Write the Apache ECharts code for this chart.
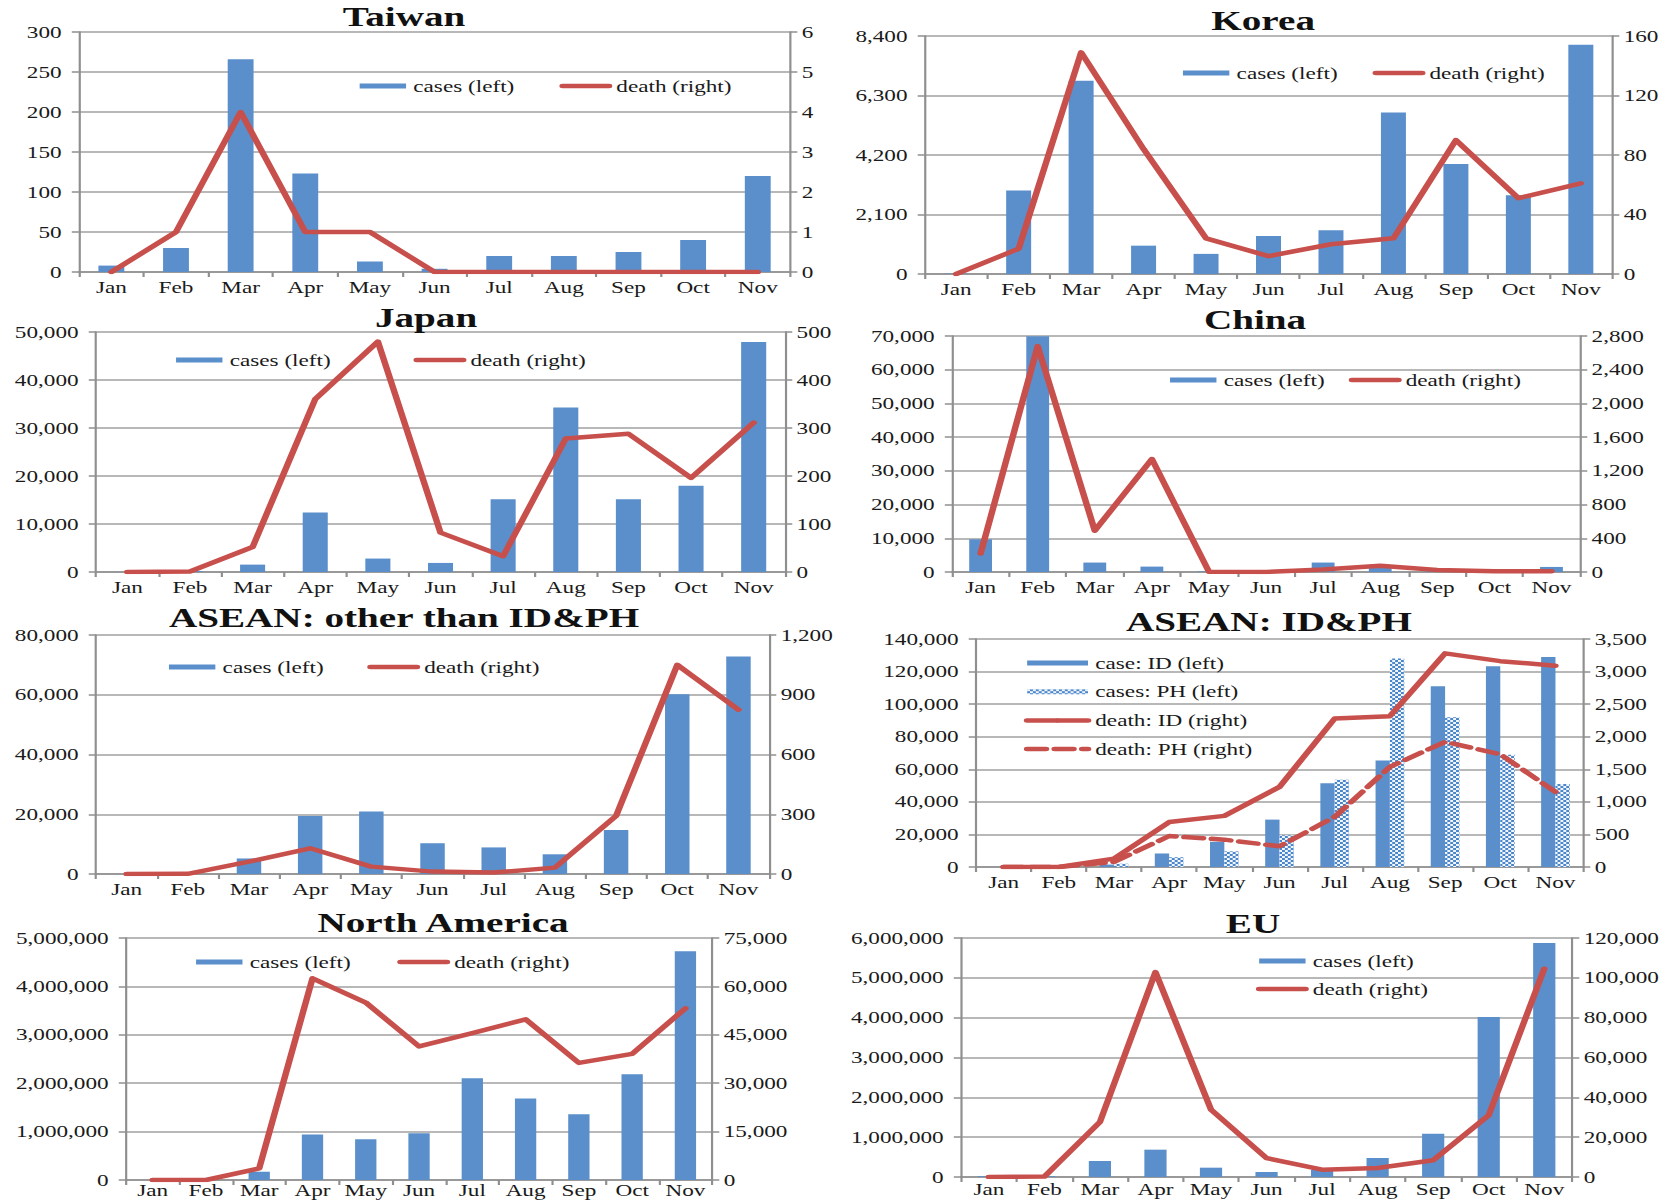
<!DOCTYPE html>
<html>
<head>
<meta charset="utf-8">
<script src="https://cdn.jsdelivr.net/npm/echarts@6/dist/echarts.min.js"></script>
<style>
  html, body { margin: 0; padding: 0; background: #fff; overflow: hidden; width: 1675px; height: 1203px; }
  /* the figure is laid out on a narrower canvas and widened to the page */
  #chart { width: 1155px; height: 1203px; transform: scaleX(1.45022); transform-origin: 0 0; }
</style>
</head>
<body>
<div id="chart"></div>
<script>
// ---- data -------------------------------------------------------------
const months = ['Jan', 'Feb', 'Mar', 'Apr', 'May', 'Jun', 'Jul', 'Aug', 'Sep', 'Oct', 'Nov'];

const taiwanCases  = [8, 30, 266, 123, 13, 4, 20, 20, 25, 40, 120];
const taiwanDeaths = [0, 1, 4, 1, 1, 0, 0, 0, 0, 0, 0];
const taiwanLeftScale  = [0, 300, 50];
const taiwanRightScale = [0, 6, 1];

const koreaCases  = [11, 2950, 6820, 1000, 710, 1340, 1540, 5700, 3880, 2780, 8090];
const koreaDeaths = [0, 17, 149, 84, 24, 12, 20, 24, 90, 51, 61];
const koreaLeftScale  = [0, 8400, 2100];
const koreaRightScale = [0, 160, 40];

const japanCases  = [10, 200, 1540, 12380, 2800, 1890, 15170, 34270, 15170, 17970, 47900];
const japanDeaths = [0, 1, 52, 360, 480, 82, 33, 278, 288, 196, 311];
const japanLeftScale  = [0, 50000, 10000];
const japanRightScale = [0, 500, 100];

const chinaCases  = [9700, 69900, 2800, 1600, 150, 300, 2800, 2000, 400, 300, 1500];
const chinaDeaths = [220, 2680, 490, 1340, 3, 0, 30, 75, 25, 10, 8];
const chinaLeftScale  = [0, 70000, 10000];
const chinaRightScale = [0, 2800, 400];

const aseanOtherCases  = [0, 100, 5200, 19400, 20900, 10300, 8900, 6600, 14700, 60200, 72800];
const aseanOtherDeaths = [0, 1, 62, 129, 37, 12, 7, 32, 292, 1050, 825];
const aseanOtherLeftScale  = [0, 80000, 20000];
const aseanOtherRightScale = [0, 1200, 300];

const idCases  = [0, 0, 1500, 8300, 15500, 29100, 51400, 65400, 111000, 123300, 129000];
const phCases  = [3, 50, 2000, 6000, 9600, 19500, 53500, 128000, 92000, 69000, 51000];
const idDeaths = [0, 0, 128, 690, 785, 1230, 2280, 2315, 3280, 3160, 3090];
const phDeaths = [0, 1, 78, 476, 420, 318, 770, 1537, 1921, 1731, 1152];
const idphLeftScale  = [0, 140000, 20000];
const idphRightScale = [0, 3500, 500];

const naCases  = [7, 60, 171000, 938000, 842000, 966000, 2100000, 1685000, 1356000, 2185000, 4726000];
const naDeaths = [0, 0, 3600, 62500, 55000, 41400, 45500, 49800, 36300, 39100, 53200];
const naLeftScale  = [0, 5000000, 1000000];
const naRightScale = [0, 75000, 15000];

const euCases  = [20000, 20000, 402000, 686000, 234000, 126000, 180000, 477000, 1088000, 4017000, 5874000];
const euDeaths = [0, 200, 27600, 102900, 33800, 9500, 3700, 4500, 8400, 31000, 104600];
const euLeftScale  = [0, 6000000, 1000000];
const euRightScale = [0, 120000, 20000];

// ---- styling ----------------------------------------------------------
const FONT = '"Liberation Serif", "Times New Roman", serif';
const BLUE = '#5a8fcb';
const RED = '#c8504c';
const TEXT = '#1a1a1a';
const AXIS = '#8f8f8f';
const GRIDC = '#a0a0a0';

const CASES = 'cases (left)';
const DEATH = 'death (right)';

const phDecal = {
  symbol: 'rect', symbolSize: 1, color: '#4a86cb',
  dashArrayX: [[2, 2], [0, 2, 2, 0]], dashArrayY: [2, 0]
};

// panel layout: grid box [left, top, width, height], title centre, legend placement
const panels = [
  { title: 'Taiwan', grid: [54.5, 32, 490.3, 240], head: [278.6, 17],
    legend: { left: 248, cy: 86, gap: 31, w: 32, orient: 'horizontal' },
    scales: [taiwanLeftScale, taiwanRightScale],
    bars: [{ name: CASES, data: taiwanCases }], lines: [{ name: DEATH, data: taiwanDeaths }] },
  { title: 'Korea', grid: [637.8, 36, 473.8, 238], head: [871, 21],
    legend: { left: 815.7, cy: 73, gap: 24, w: 32, orient: 'horizontal' },
    scales: [koreaLeftScale, koreaRightScale],
    bars: [{ name: CASES, data: koreaCases }], lines: [{ name: DEATH, data: koreaDeaths }] },
  { title: 'Japan', grid: [66.2, 332, 475.1, 240], head: [293.8, 318],
    legend: { left: 121.4, cy: 360, gap: 57, w: 32, orient: 'horizontal' },
    scales: [japanLeftScale, japanRightScale],
    bars: [{ name: CASES, data: japanCases }], lines: [{ name: DEATH, data: japanDeaths }] },
  { title: 'China', grid: [656.5, 336, 433, 236], head: [865.4, 320],
    legend: { left: 806.8, cy: 380, gap: 16.5, w: 32, orient: 'horizontal' },
    scales: [chinaLeftScale, chinaRightScale],
    bars: [{ name: CASES, data: chinaCases }], lines: [{ name: DEATH, data: chinaDeaths }] },
  { title: 'ASEAN: other than ID&PH', grid: [66.2, 635, 464.1, 239], head: [278.6, 618],
    legend: { left: 116.5, cy: 667, gap: 30, w: 32, orient: 'horizontal' },
    scales: [aseanOtherLeftScale, aseanOtherRightScale],
    bars: [{ name: CASES, data: aseanOtherCases }], lines: [{ name: DEATH, data: aseanOtherDeaths }] },
  { title: 'ASEAN: ID&PH', grid: [673, 639, 418.6, 228], head: [875, 622],
    legend: { left: 706, cy: 663, gap: 12.7, w: 42, orient: 'vertical' },
    scales: [idphLeftScale, idphRightScale], barWidth: '26%',
    bars: [{ name: 'case: ID (left)', data: idCases },
           { name: 'cases: PH (left)', data: phCases, decal: true }],
    lines: [{ name: 'death: ID (right)', data: idDeaths },
            { name: 'death: PH (right)', data: phDeaths, dashed: true }] },
  { title: 'North America', grid: [86.9, 938, 404.1, 242], head: [305.5, 923], labelMargin: 2,
    legend: { left: 135.2, cy: 962, gap: 32, w: 32, orient: 'horizontal' },
    scales: [naLeftScale, naRightScale],
    bars: [{ name: CASES, data: naCases }], lines: [{ name: DEATH, data: naDeaths }] },
  { title: 'EU', grid: [662.7, 938, 421.3, 239], head: [864, 924], labelMargin: 4,
    legend: { left: 866, cy: 961, gap: 12, w: 32, orient: 'vertical' },
    scales: [euLeftScale, euRightScale],
    bars: [{ name: CASES, data: euCases }], lines: [{ name: DEATH, data: euDeaths }] }
];

// ---- option -----------------------------------------------------------
const fmt = v => v.toLocaleString('en-US');
const labelStyle = { fontFamily: FONT, fontSize: 16, color: TEXT };

const option = {
  animation: false,
  backgroundColor: '#ffffff',
  title: [], legend: [], grid: [], xAxis: [], yAxis: [], series: []
};

panels.forEach((p, i) => {
  option.title.push({
    text: p.title, left: p.head[0], top: p.head[1], padding: 0,
    textAlign: 'center', textVerticalAlign: 'middle',
    textStyle: { fontFamily: FONT, fontWeight: 'bold', fontSize: 27, color: '#111' }
  });

  option.grid.push({
    left: p.grid[0], top: p.grid[1], width: p.grid[2], height: p.grid[3],
    outerBoundsMode: 'none', containLabel: false
  });

  option.xAxis.push({
    type: 'category', gridIndex: i, data: months, boundaryGap: true,
    axisLine: { show: true, lineStyle: { color: AXIS, width: 1.5 } },
    axisTick: { show: true, length: 5, interval: 0, alignWithLabel: false, lineStyle: { color: AXIS, width: 1.5 } },
    axisLabel: Object.assign({ interval: 0, margin: p.labelMargin != null ? p.labelMargin : 7 }, labelStyle),
    splitLine: { show: false }
  });

  const [lMin, lMax, lStep] = p.scales[0];
  const [rMin, rMax, rStep] = p.scales[1];
  option.yAxis.push({
    type: 'value', gridIndex: i, position: 'left', min: lMin, max: lMax, interval: lStep,
    axisLine: { show: true, lineStyle: { color: AXIS, width: 1.5 } },
    axisTick: { show: true, length: 5, lineStyle: { color: AXIS, width: 1.5 } },
    splitLine: { show: true, lineStyle: { color: GRIDC, width: 1.5 } },
    axisLabel: Object.assign({ margin: 12, formatter: fmt }, labelStyle)
  });
  option.yAxis.push({
    type: 'value', gridIndex: i, position: 'right', min: rMin, max: rMax, interval: rStep,
    axisLine: { show: true, lineStyle: { color: AXIS, width: 1.5 } },
    axisTick: { show: true, length: 5, lineStyle: { color: AXIS, width: 1.5 } },
    splitLine: { show: false },
    axisLabel: Object.assign({ margin: 8, formatter: fmt }, labelStyle)
  });

  const legendData = [];
  p.bars.forEach(b => {
    option.series.push({
      type: 'bar', name: b.name, xAxisIndex: i, yAxisIndex: 2 * i, data: b.data,
      barWidth: p.barWidth || '40%', barGap: '0%', z: 2,
      itemStyle: b.decal ? { color: '#f2f6fb', decal: phDecal } : { color: BLUE }
    });
    legendData.push({ name: b.name, icon: 'rect' });
  });
  p.lines.forEach(l => {
    option.series.push({
      type: 'line', name: l.name, xAxisIndex: i, yAxisIndex: 2 * i + 1, data: l.data,
      symbol: 'none', showSymbol: false, z: 3,
      lineStyle: { color: RED, width: 4.5, cap: 'round', join: 'round', type: l.dashed ? [13, 6] : 'solid' },
      itemStyle: { color: RED }
    });
    legendData.push({ name: l.name });
  });

  option.legend.push({
    orient: p.legend.orient, left: p.legend.left, top: p.legend.cy - 8,
    padding: 0, itemGap: p.legend.gap, itemWidth: p.legend.w, itemHeight: 5,
    selectedMode: false, data: legendData,
    lineStyle: { width: 4.5, cap: 'round' },
    textStyle: { fontFamily: FONT, fontSize: 16, color: TEXT, lineHeight: 16, padding: 0 }
  });
});

const chart = echarts.init(document.getElementById('chart'), null, { renderer: 'svg', width: 1155, height: 1203 });
chart.setOption(option);
</script>
</body>
</html>
